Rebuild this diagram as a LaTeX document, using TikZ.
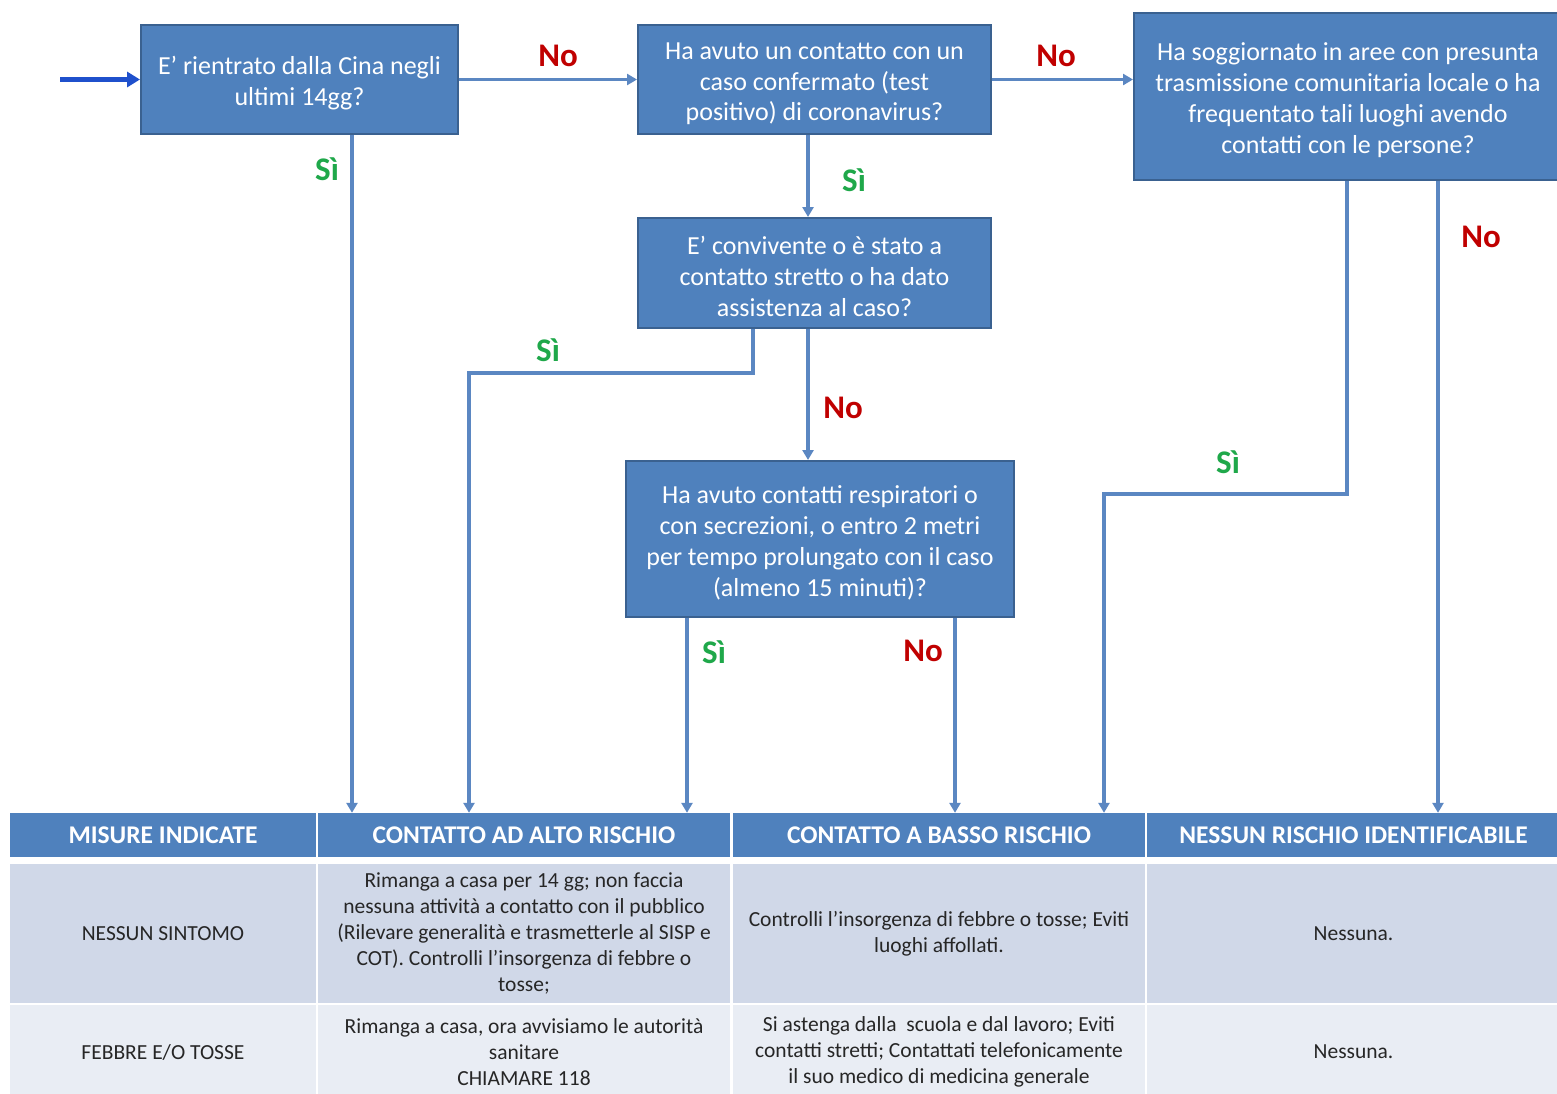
\documentclass[tikz,border=0pt]{standalone}
\usepackage{fontspec}
\setmainfont{Carlito}
\usetikzlibrary{arrows.meta}
\definecolor{boxfill}{HTML}{4F81BD}
\definecolor{boxline}{HTML}{3A6190}
\definecolor{conn}{HTML}{5B87C2}
\definecolor{entry}{HTML}{1F50CC}
\definecolor{nored}{HTML}{C00000}
\definecolor{sigreen}{HTML}{1FA84A}
\definecolor{rowa}{HTML}{D0D8E8}
\definecolor{rowb}{HTML}{E9EDF4}
\definecolor{bodytext}{HTML}{262626}
\newcommand{\dn}{\rule{0pt}{25.5pt}}
\tikzset{
  qbox/.style={draw=boxline, line width=2pt, fill=boxfill, text=white, align=center,
    inner sep=0pt, font=\fontsize{26}{30.8}\selectfont},
  arr/.style={draw=conn, line width=3.2pt, -{Triangle[length=10pt,width=11pt]}},
  entryarr/.style={draw=entry, line width=4.5pt, -{Triangle[length=13pt,width=15pt]}},
  nolab/.style={text=nored, font=\bfseries\fontsize{33}{36}\selectfont},
  silab/.style={text=sigreen, font=\bfseries\fontsize{33}{36}\selectfont},
  hcell/.style={fill=boxfill, text=white, inner sep=0pt, align=center,
    font=\bfseries\fontsize{25.5}{28}\selectfont},
  ra/.style={fill=rowa, text=bodytext, inner sep=0pt, align=center,
    font=\fontsize{21.5}{26}\selectfont},
  rb/.style={fill=rowb, text=bodytext, inner sep=0pt, align=center,
    font=\fontsize{21.5}{26}\selectfont}
}
\begin{document}
\begin{tikzpicture}[x=1pt,y=-1pt]
\useasboundingbox[fill=white] (0,0) rectangle (1557,1093);
\begin{scope}
\clip (0,0) rectangle (1557,1093);
% question boxes
\node[qbox, minimum width=317pt, minimum height=109pt] (A) at (299.5,79.5)
  {\dn E’ rientrato dalla Cina negli\\ultimi 14gg?};
\node[qbox, minimum width=353pt, minimum height=109pt] (B) at (814.5,79.5)
  {\dn Ha avuto un contatto con un\\caso confermato (test\\positivo) di coronavirus?};
\node[qbox, minimum width=428pt, minimum height=167pt] (C) at (1348,96.5)
  {\dn Ha soggiornato in aree con presunta\\trasmissione comunitaria locale o ha\\frequentato tali luoghi avendo\\contatti con le persone?};
\node[qbox, minimum width=353pt, minimum height=110pt] (D) at (814.5,273)
  {\dn E’ convivente o è stato a\\contatto stretto o ha dato\\assistenza al caso?};
\node[qbox, minimum width=388pt, minimum height=156pt] (E) at (820,539)
  {\dn Ha avuto contatti respiratori o\\con secrezioni, o entro 2 metri\\per tempo prolungato con il caso\\(almeno 15 minuti)?};

% table header
\node[hcell, minimum width=306pt, minimum height=44pt] (h1) at (163,835) {MISURE INDICATE};
\node[hcell, minimum width=412pt, minimum height=44pt] (h2) at (524,835) {CONTATTO AD ALTO RISCHIO};
\node[hcell, minimum width=412pt, minimum height=44pt] (h3) at (939,835) {CONTATTO A BASSO RISCHIO};
\node[hcell, minimum width=413pt, minimum height=44pt] (h4) at (1353.5,835) {NESSUN RISCHIO IDENTIFICABILE};
% row 1
\node[ra, minimum width=306pt, minimum height=139pt] (r1c1) at (163,933.5) {NESSUN SINTOMO};
\node[ra, minimum width=412pt, minimum height=139pt] (r1c2) at (524,933.5)
  {Rimanga a casa per 14 gg; non faccia\\nessuna attività a contatto con il pubblico\\(Rilevare generalità e trasmetterle al SISP e\\COT). Controlli l’insorgenza di febbre o\\tosse;};
\node[ra, minimum width=412pt, minimum height=139pt] (r1c3) at (939,933.5)
  {Controlli l’insorgenza di febbre o tosse; Eviti\\luoghi affollati.};
\node[ra, minimum width=413pt, minimum height=139pt] (r1c4) at (1353.5,933.5) {Nessuna.};
% row 2
\node[rb, minimum width=306pt, minimum height=94pt] (r2c1) at (163,1052) {FEBBRE E/O TOSSE};
\node[rb, minimum width=412pt, minimum height=94pt] (r2c2) at (524,1052)
  {Rimanga a casa, ora avvisiamo le autorità\\sanitare\\CHIAMARE 118};
\node[rb, minimum width=412pt, minimum height=94pt] (r2c3) at (939,1052)
  {Si astenga dalla\ \ scuola e dal lavoro; Eviti\\contatti stretti; Contattati telefonicamente\\il suo medico di medicina generale};
\node[rb, minimum width=413pt, minimum height=94pt] (r2c4) at (1353.5,1052) {Nessuna.};

% coordinates for bends
\coordinate (dsi) at (469,373);
\coordinate (csi) at (1104,494);
\coordinate (start) at (60,79.5);

% connectors
\draw[entryarr] (start) -- (A.west);
\draw[arr] (A.east) -- (B.west);
\draw[arr] (B.east) -- (B.east -| C.west);
\draw[arr] ([xshift=52.5pt]A.south) -- ([xshift=52.5pt]A.south |- h2.north);
\draw[arr] ([xshift=-6.5pt]B.south) -- ([xshift=-6.5pt]B.south |- D.north);
\draw[arr] ([xshift=-61.5pt]D.south) |- (dsi) -- (dsi |- h2.north);
\draw[arr] ([xshift=-6.5pt]D.south) -- ([xshift=-6.5pt]D.south |- E.north);
\draw[arr] ([xshift=-133pt]E.south) -- ([xshift=-133pt]E.south |- h2.north);
\draw[arr] ([xshift=135pt]E.south) -- ([xshift=135pt]E.south |- h3.north);
\draw[arr] ([xshift=-1pt]C.south) |- (csi) -- (csi |- h3.north);
\draw[arr] ([xshift=90pt]C.south) -- ([xshift=90pt]C.south |- h4.north);

% labels
\node[nolab] (l1) at (558,56) {No};
\node[nolab] (l2) at (1056,56) {No};
\node[silab] (l3) at (327,169) {Sì};
\node[silab] (l4) at (854,180) {Sì};
\node[silab] (l5) at (548,350) {Sì};
\node[nolab] (l6) at (843,408) {No};
\node[silab] (l7) at (714,652) {Sì};
\node[nolab] (l8) at (923,651) {No};
\node[silab] (l9) at (1228,462) {Sì};
\node[nolab] (l10) at (1481,237) {No};
\end{scope}
\end{tikzpicture}
\end{document}
